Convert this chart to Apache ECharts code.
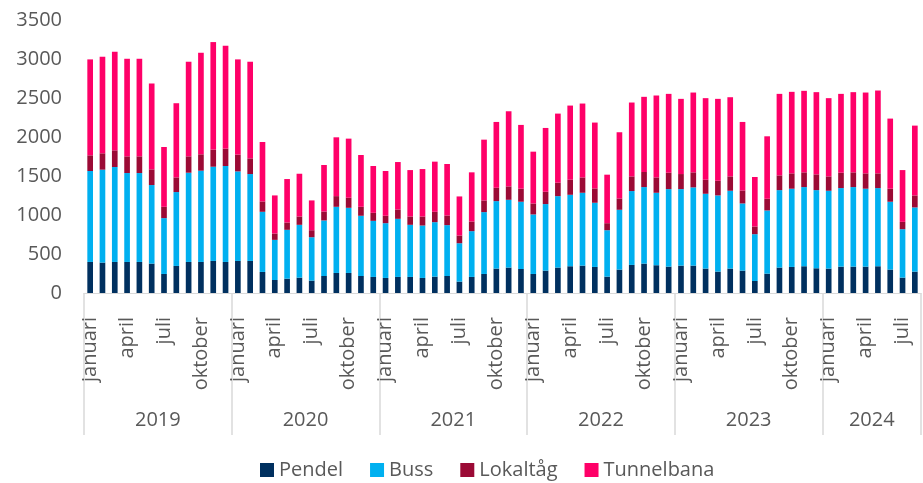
<!DOCTYPE html>
<html>
<head>
<meta charset="utf-8">
<script src="https://cdn.jsdelivr.net/npm/echarts@6/dist/echarts.min.js"></script>
<style>
    html, body { margin: 0; padding: 0; background: #fff; }
    #chart { width: 923px; height: 483px; }
</style>
</head>
<body>
<div id="chart"></div>
<script>
const years = ['2019', '2020', '2021', '2022', '2023', '2024'];
const monthNames = ['januari', 'februari', 'mars', 'april', 'maj', 'juni',
    'juli', 'augusti', 'september', 'oktober', 'november', 'december'];
const monthsInYear = [12, 12, 12, 12, 12, 8];

const pendel = [
    398, 390, 398, 398, 398, 377, 244, 347, 398, 398, 411, 398,
    411, 411, 270, 167, 184, 197, 159, 218, 257, 257, 218, 206,
    193, 206, 206, 193, 210, 218, 146, 206, 244, 313, 326, 308,
    244, 287, 326, 343, 351, 334, 210, 300, 360, 377, 356, 338,
    351, 351, 313, 274, 313, 287, 154, 248, 326, 334, 343, 317,
    313, 338, 338, 338, 343, 300, 197, 274
];
const buss = [
    1166, 1191, 1217, 1140, 1140, 1007, 716, 947, 1144, 1170, 1208, 1230,
    1148, 1114, 771, 514, 626, 677, 556, 712, 848, 835, 772, 719,
    702, 745, 668, 672, 698, 652, 492, 587, 793, 865, 869, 862,
    763, 853, 916, 916, 934, 823, 595, 767, 947, 981, 929, 994,
    981, 1003, 959, 977, 998, 861, 600, 810, 993, 1003, 1015, 1002,
    998, 1007, 1020, 999, 1002, 870, 621, 823
];
const lokaltag = [
    201, 210, 214, 214, 214, 201, 145, 188, 210, 210, 219, 223,
    215, 201, 133, 82, 94, 107, 90, 115, 137, 129, 115, 103,
    95, 120, 107, 116, 133, 124, 99, 124, 150, 171, 172, 167,
    141, 158, 172, 193, 197, 184, 90, 145, 188, 193, 197, 210,
    193, 193, 180, 188, 184, 167, 99, 150, 189, 197, 189, 202,
    184, 197, 189, 197, 189, 167, 94, 154
];
const tunnelbana = [
    1230, 1238, 1264, 1251, 1251, 1101, 767, 951, 1213, 1302, 1379, 1319,
    1221, 1239, 762, 488, 557, 548, 382, 596, 754, 758, 664, 600,
    574, 608, 595, 608, 643, 660, 501, 630, 779, 844, 963, 818,
    664, 818, 886, 951, 947, 844, 622, 849, 947, 964, 1050, 1011,
    964, 1023, 1046, 1050, 1015, 878, 634, 801, 1045, 1045, 1045, 1054,
    1003, 1011, 1028, 1036, 1062, 899, 664, 895
];

// month categories (one per bar) and year boundary axis (one slot per month edge)
const monthCats = [];
const yearEdges = [];
const yearBoundaries = new Set();
years.forEach(function (y, yi) {
    const start = monthCats.length;
    yearBoundaries.add(start);
    for (let m = 0; m < monthsInYear[yi]; m++) {
        monthCats.push(monthNames[m]);
    }
    for (let k = 0; k < monthsInYear[yi]; k++) {
        yearEdges.push(k === monthsInYear[yi] / 2 ? y : '');
    }
});
yearEdges.push('');
yearBoundaries.add(monthCats.length);

const textColor = '#595959';
const font = '"Open Sans", sans-serif';

const chart = echarts.init(document.getElementById('chart'));

function barSeries(name, data, color) {
    return {
        name: name,
        type: 'bar',
        stack: 'total',
        data: data,
        barWidth: '46%',
        itemStyle: { color: color },
        emphasis: { disabled: true }
    };
}

chart.setOption({
    animation: false,
    textStyle: { fontFamily: font },
    grid: { left: 84, right: 2, top: 20, bottom: 190 },
    legend: {
        top: 455,
        left: 255,
        itemWidth: 14,
        itemHeight: 14,
        itemGap: 27,
        icon: 'rect',
        textStyle: { color: textColor, fontSize: 20, fontFamily: font }
    },
    xAxis: [
        {
            type: 'category',
            data: monthCats,
            position: 'bottom',
            axisLine: { lineStyle: { color: '#d9d9d9', width: 1 } },
            axisTick: { show: false },
            axisLabel: {
                interval: function (i) { return i % 12 % 3 === 0; },
                rotate: 90,
                margin: 24,
                color: textColor,
                fontSize: 20,
                fontFamily: font
            }
        },
        {
            type: 'category',
            data: yearEdges,
            position: 'bottom',
            boundaryGap: false,
            axisLine: { show: false },
            axisTick: {
                show: true,
                interval: function (i) { return yearBoundaries.has(i); },
                length: 142,
                lineStyle: { color: '#d9d9d9', width: 1.5 }
            },
            axisLabel: {
                interval: function (i, v) { return v !== ''; },
                margin: 117,
                color: textColor,
                fontSize: 20,
                fontFamily: font
            }
        }
    ],
    yAxis: {
        type: 'value',
        min: 0,
        max: 3500,
        interval: 500,
        axisLine: { show: false },
        axisTick: { show: false },
        splitLine: { show: false },
        axisLabel: {
            color: textColor,
            fontSize: 20,
            margin: 22,
            fontFamily: font,
            formatter: function (v) { return String(v); }
        }
    },
    series: [
        barSeries('Pendel', pendel, '#00305f'),
        barSeries('Buss', buss, '#00b0f0'),
        barSeries('Lokaltåg', lokaltag, '#9b0a35'),
        barSeries('Tunnelbana', tunnelbana, '#ff0068')
    ]
});
</script>
</body>
</html>
